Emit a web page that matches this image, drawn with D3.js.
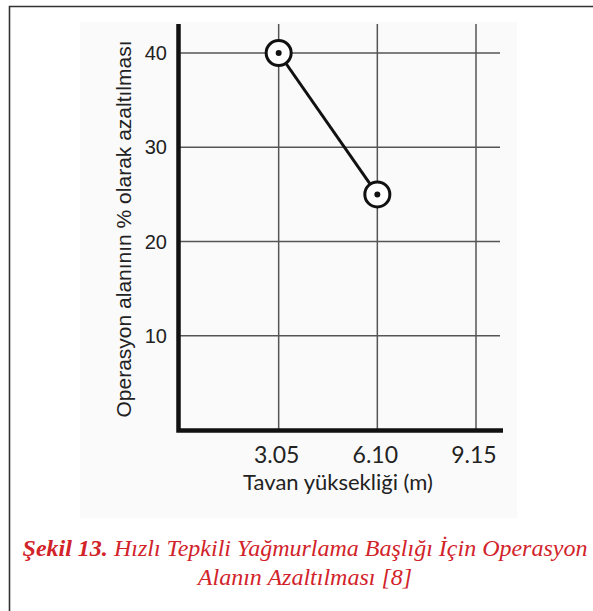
<!doctype html>
<html lang='tr'>
<head>
    <meta charset='UTF-8'>
    <title>Şekil 13</title>
    <style>
        body {
            margin: 0;
            background: #fff;
        }

        .tick-y {
            font-family: 'Liberation Sans', Arial, sans-serif;
            font-size: 20px;
            fill: #222;
        }

        .tick-x, .x-title {
            font-family: Lato, 'Open Sans', sans-serif;
            fill: #222;
        }

        .caption {
            font-family: 'Liberation Serif', Tinos, 'Times New Roman', Times, 'DejaVu Serif', serif;
            font-style: italic;
            font-size: 24px;
            fill: #d2232a;
        }
    </style>
</head>
<body>

<script src='https://d3js.org/d3.v7.min.js'></script>
<script>
  // data
  const heights = [3.05, 6.10]
  const reductions = [40, 25]
  const xTicks = [3.05, 6.10, 9.15]
  const xTickLabels = ['3.05', '6.10', '9.15']
  const yTicks = [10, 20, 30, 40]

  const xTitle = 'Tavan yüksekliği (m)'
  const yTitle = 'Operasyon alanının % olarak azaltılması'
  const captionBold = 'Şekil 13.'
  const captionRest = ' Hızlı Tepkili Yağmurlama Başlığı İçin Operasyon'
  const captionLine2 = 'Alanın Azaltılması [8]'

  const W = 593, H = 611

  const xScale = d3.scaleLinear()
    .domain([0, 9.15])
    .range([180, 476])

  const yScale = d3.scaleLinear()
    .domain([0, 40])
    .range([430, 53])

  const svg = d3.select('body').append('svg')
    .attr('width', W)
    .attr('height', H)

  // frame
  svg.append('path')
    .attr('d', `M9.5,${H} V6.5 H${W}`)
    .attr('fill', 'none')
    .attr('stroke', '#333')
    .attr('stroke-width', 1.6)

  // faint scanned figure background
  svg.append('rect')
    .attr('x', 80).attr('y', 22)
    .attr('width', 437).attr('height', 496)
    .attr('fill', '#fafafa')

  //// grid ////
  const grid = svg.append('g')
    .attr('stroke', '#555')
    .attr('stroke-width', 1.5)

  grid.selectAll('line.h')
    .data(yTicks)
    .enter()
    .append('line')
    .attr('x1', xScale(0))
    .attr('x2', 500)
    .attr('y1', d => yScale(d))
    .attr('y2', d => yScale(d))

  grid.selectAll('line.v')
    .data(xTicks)
    .enter()
    .append('line')
    .attr('x1', d => xScale(d))
    .attr('x2', d => xScale(d))
    .attr('y1', 24)
    .attr('y2', yScale(0))

  //// axes ////
  svg.append('path')
    .attr('d', `M${xScale(0) - 1.5},24 V${yScale(0) + 0.5} H503`)
    .attr('fill', 'none')
    .attr('stroke', '#111')
    .attr('stroke-width', 4.5)

  svg.selectAll('text.tick-y')
    .data(yTicks)
    .enter()
    .append('text')
    .attr('class', 'tick-y')
    .attr('x', 167)
    .attr('y', d => yScale(d))
    .attr('dy', '0.36em')
    .attr('text-anchor', 'end')
    .text(d => d)

  svg.selectAll('text.tick-x')
    .data(xTicks)
    .enter()
    .append('text')
    .attr('class', 'tick-x')
    .attr('x', d => xScale(d) - 2)
    .attr('y', 463)
    .attr('text-anchor', 'middle')
    .style('font-size', '23px')
    .text((d, i) => xTickLabels[i])

  svg.append('text')
    .attr('class', 'x-title')
    .attr('x', 338)
    .attr('y', 490)
    .attr('text-anchor', 'middle')
    .style('font-size', '22px')
    .text(xTitle)

  svg.append('text')
    .attr('class', 'tick-y')
    .attr('transform', 'translate(131,229) rotate(-90)')
    .attr('text-anchor', 'middle')
    .style('font-size', '21px')
    .text(yTitle)

  //// line + markers ////
  const pts = heights.map((h, i) => [h, reductions[i]])

  svg.append('path')
    .datum(pts)
    .attr('fill', 'none')
    .attr('stroke', '#111')
    .attr('stroke-width', 3)
    .attr('d', d3.line().x(d => xScale(d[0])).y(d => yScale(d[1])))

  const marks = svg.selectAll('g.mark')
    .data(pts)
    .enter()
    .append('g')
    .attr('transform', d => `translate(${xScale(d[0])},${yScale(d[1])})`)

  marks.append('circle')
    .attr('r', 12.5)
    .attr('fill', '#fff')
    .attr('stroke', '#111')
    .attr('stroke-width', 3)

  marks.append('circle')
    .attr('r', 3)
    .attr('fill', '#111')

  //// caption ////
  const cap = svg.append('text')
    .attr('class', 'caption')
    .attr('x', 305)
    .attr('y', 556)
    .attr('text-anchor', 'middle')

  cap.append('tspan')
    .style('font-weight', 'bold')
    .text(captionBold)
  cap.append('tspan')
    .text(captionRest)

  svg.append('text')
    .attr('class', 'caption')
    .attr('x', 305)
    .attr('y', 585)
    .attr('text-anchor', 'middle')
    .text(captionLine2)
</script>
</body>
</html>
